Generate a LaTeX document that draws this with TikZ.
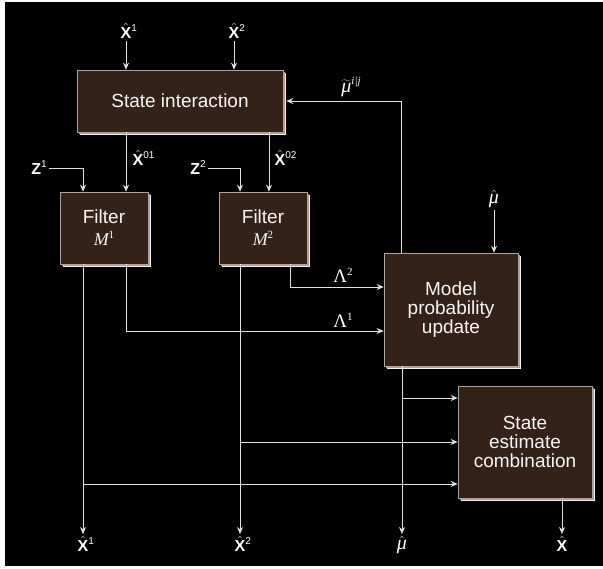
\RequirePackage{fix-cm}
\documentclass[tikz,border=0pt]{standalone}
\usepackage{fontspec}
\setmainfont{Liberation Sans}
\newfontfamily\tms{Liberation Serif}
\usetikzlibrary{arrows.meta,shadows}
\definecolor{imbrown}{RGB}{52,33,23}
\definecolor{imedge}{RGB}{196,150,135}
\definecolor{imline}{RGB}{225,225,225}
% hat-X with a superscript that does not shift the node centre
\newcommand{\xhat}[1]{$\hat{\mbox{\bfseries X}}$\rlap{\fontsize{10}{10}\selectfont\raisebox{7pt}{#1}}}
% Times-like symbols
\newcommand{\sym}[2]{{\tms\fontsize{19}{19}\selectfont #1\raisebox{7pt}{\fontsize{11}{11}\selectfont #2}}}
\newcommand{\muhat}{$\hat{\mbox{\tms\itshape\fontsize{20}{20}\selectfont μ}}$}

\begin{document}
\begin{tikzpicture}[x=1pt, y=-1pt,
    block/.style={draw=gray!70, line width=0.6pt, fill=imbrown, text=white!94!gray,
        align=center, font=\fontsize{19}{19}\selectfont, inner sep=2pt,
        drop shadow={shadow xshift=3pt, shadow yshift=-3pt, fill=white!90!gray, opacity=1},
        drop shadow={shadow xshift=1.8pt, shadow yshift=-1.8pt, fill=imedge, opacity=1}},
    arr/.style={-{Stealth[length=7pt,width=6pt]}, imline, line width=0.9pt},
    lbl/.style={text=white, inner sep=2pt, font=\fontsize{16}{17}\selectfont}
]
\fill[white] (0,0) rectangle (603,569);
\fill[black] (5,2) rectangle (603,566);

% blocks
\node[block, minimum width=206pt, minimum height=62pt] (inter) at (180,101) {State interaction};
\node[block, minimum width=88pt, minimum height=72pt] (filt1) at (104,228)
    {Filter\\[3pt]{\tms\itshape\fontsize{18}{18}\selectfont M\raisebox{7pt}{\upshape\fontsize{11}{11}\selectfont 1}}};
\node[block, minimum width=88pt, minimum height=72pt] (filt2) at (263,228)
    {Filter\\[3pt]{\tms\itshape\fontsize{18}{18}\selectfont M\raisebox{7pt}{\upshape\fontsize{11}{11}\selectfont 2}}};
\node[block, minimum width=134pt, minimum height=113pt] (model) at (451,309.5) {Model\\probability\\update};
\node[block, minimum width=134pt, minimum height=112pt] (comb) at (525,442) {State\\estimate\\combination};

% inputs and outputs
\node[lbl, anchor=south] (in1) at (126,41) {\xhat{1}};
\node[lbl, anchor=south] (in2) at (234,41) {\xhat{2}};
\node[lbl, anchor=east] (z1) at (49,168) {{\bfseries Z}\raisebox{7pt}{\fontsize{10}{10}\selectfont 1}};
\node[lbl, anchor=east] (z2) at (208,168) {{\bfseries Z}\raisebox{7pt}{\fontsize{10}{10}\selectfont 2}};
\node[lbl] (x01) at (138,158) {\xhat{01}};
\node[lbl] (x02) at (280,158) {\xhat{02}};
\node[lbl] (mufb) at (351,87) {$\widetilde{\mbox{\tms\itshape\fontsize{20}{20}\selectfont μ}}$\raisebox{8pt}{\tms\itshape\fontsize{11}{11}\selectfont i|j}};
\node[lbl, anchor=south] (muin) at (494,210) {\muhat};
\node[lbl] (lam2) at (343,275) {\sym{Λ}{2}};
\node[lbl] (lam1) at (343,320) {\sym{Λ}{1}};
\node[lbl, anchor=north] (out1) at (83,534) {\xhat{1}};
\node[lbl, anchor=north] (out2) at (240,534) {\xhat{2}};
\node[lbl, anchor=north] (outmu) at (402,534) {\muhat};
\node[lbl, anchor=north] (outx) at (562,534) {\xhat{}};

\coordinate (f1in) at ([xshift=22pt]filt1.north);
\coordinate (f2in) at ([xshift=6pt]filt2.north);
\coordinate (j1) at (83,484);
\coordinate (j2) at (240,442);
\coordinate (j3) at (402,398);

% connectors
\draw[arr] (in1) -- (in1 |- inter.north);
\draw[arr] (in2) -- (in2 |- inter.north);
\draw[arr] (f1in |- inter.south) -- (f1in);
\draw[arr] (f2in |- inter.south) -- (f2in);
\draw[arr] (z1.east) -| ([xshift=-21pt]filt1.north);
\draw[arr] (z2.east) -| ([xshift=-23pt]filt2.north);
\draw[arr] ([xshift=18pt]model.north west) |- ([xshift=3pt]inter.east);
\draw[arr] (muin) -- (muin |- model.north);
\draw[arr] ([xshift=27pt]filt2.south) |- ([yshift=22.5pt]model.west);
\draw[arr] ([xshift=22pt]filt1.south) |- ([yshift=-21.5pt]model.west);
\draw[arr] ([xshift=-21pt]filt1.south) -- (out1);
\draw[arr] ([xshift=-23pt]filt2.south) -- (out2);
\draw[arr] ([xshift=-49pt]model.south) -- (outmu);
\draw[arr] ([xshift=37pt]comb.south) -- (outx);
\draw[arr] (j1) -- (j1 -| comb.west);
\draw[arr] (j2) -- (j2 -| comb.west);
\draw[arr] (j3) -- (j3 -| comb.west);
\end{tikzpicture}
\end{document}
